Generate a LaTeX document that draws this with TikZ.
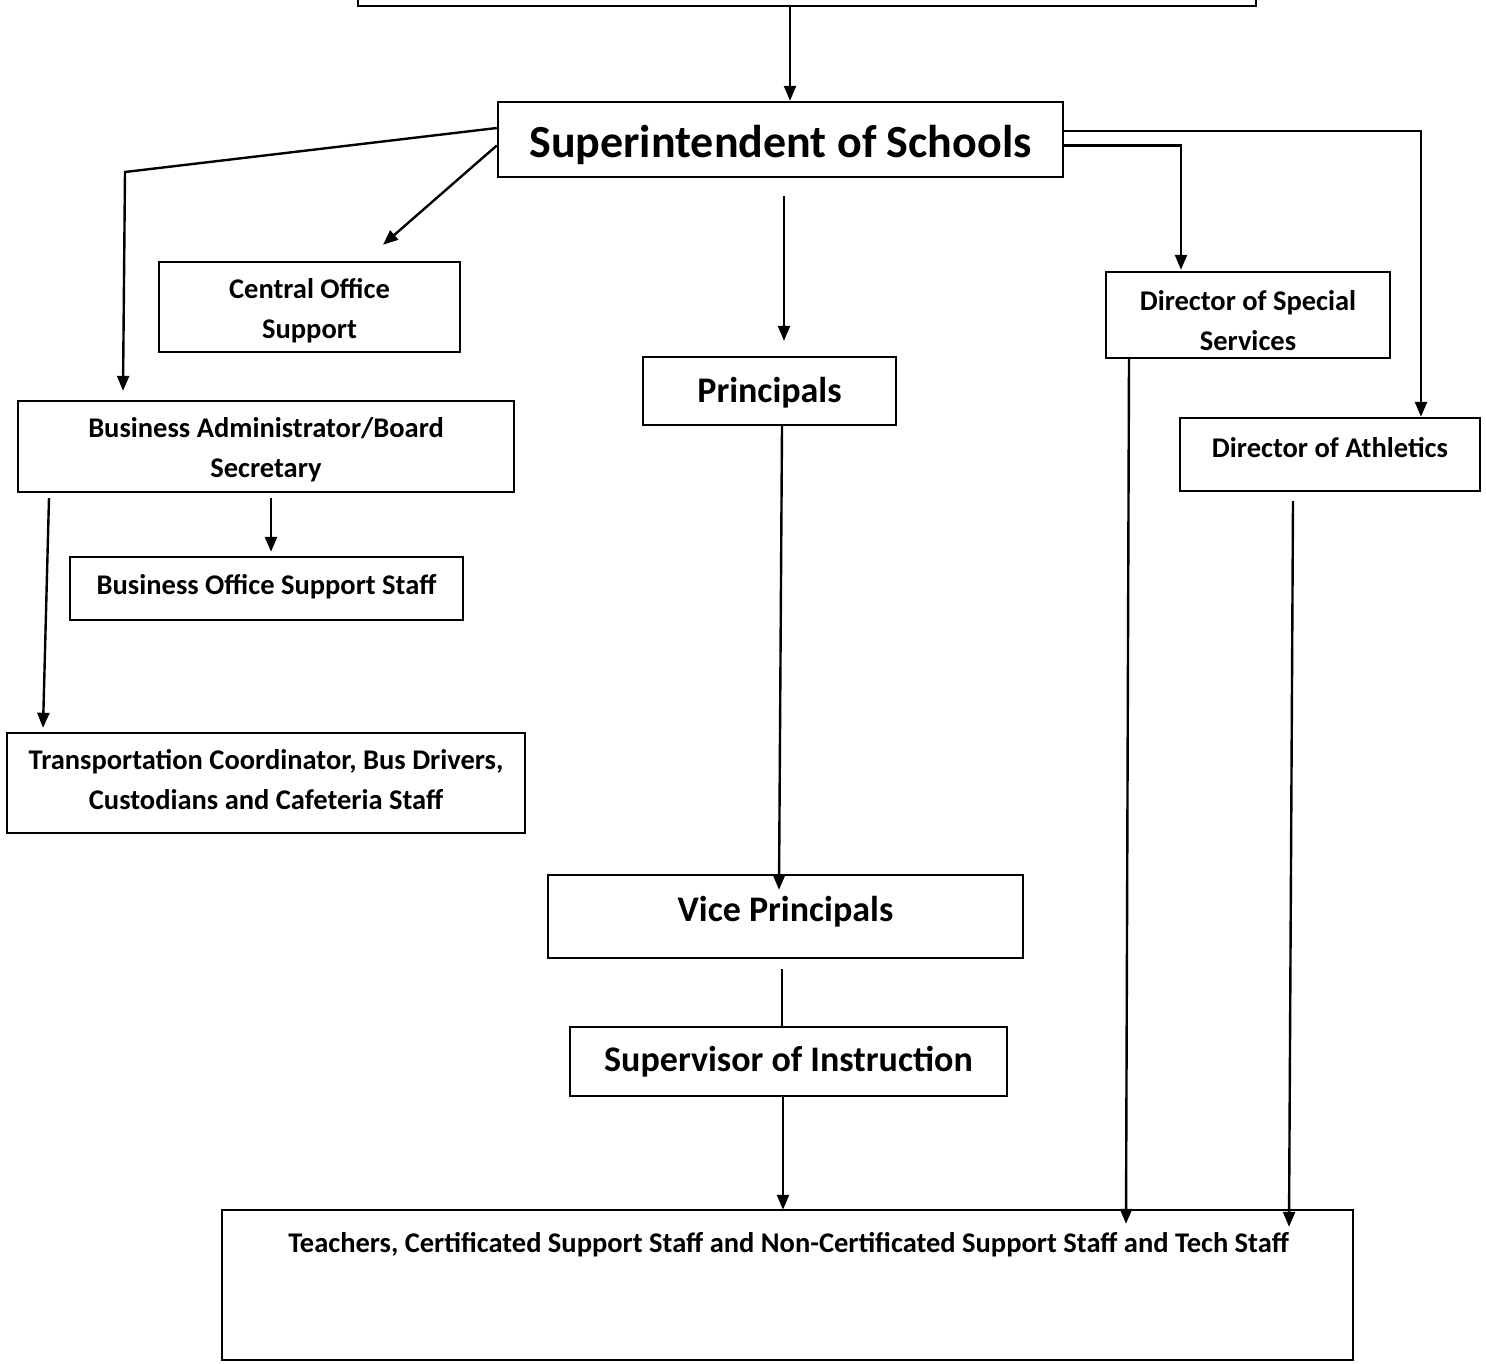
\documentclass[tikz,border=0pt]{standalone}
\usepackage{fontspec}
\setmainfont{Carlito}
\usetikzlibrary{arrows.meta,calc}
\newcommand\mvone[2]{\raisebox{#1}[\height][\depth]{#2}}
\newcommand\mvtwo[2]{\raisebox{#1}[\height][\depth]{\begin{tabular}{@{}c@{}}#2\end{tabular}}}
\tikzset{
  box/.style={draw, line width=2.4pt, inner sep=0pt, align=center, font=\bfseries\fontsize{28.5}{40}\selectfont},
  big/.style={font=\bfseries\fontsize{36}{42}\selectfont},
  huge/.style={font=\bfseries\fontsize{46}{52}\selectfont},
  arr/.style={line width=2.4pt, -{Triangle[length=15pt,width=12pt]}},
  ln/.style={line width=2.4pt}
}
\begin{document}
\begin{tikzpicture}[x=1pt,y=-1pt]
\useasboundingbox (0,0) rectangle (1486,1363);
\fill[white] (0,0) rectangle (1486,1363);
% nodes
\node[box, minimum width=898, minimum height=52] (board) at (807,-20) {};
\node[box, huge, minimum width=565, minimum height=75] (sup) at (780.5,139.5) {\mvone{-5pt}{Superintendent of Schools}};
\node[box, minimum width=301, minimum height=90] (cos) at (309.5,307) {\mvtwo{-3pt}{Central Office\\Support}};
\node[box, minimum width=496, minimum height=91] (bas) at (266,446.5) {\mvtwo{-3pt}{Business Administrator/Board\\Secretary}};
\node[box, minimum width=393, minimum height=63] (bos) at (266.5,588.5) {\mvone{2pt}{Business Office Support Staff}};
\node[box, minimum width=518, minimum height=100] (trans) at (266,783) {\mvtwo{2pt}{Transportation Coordinator, Bus Drivers,\\Custodians and Cafeteria Staff}};
\node[box, big, minimum width=253, minimum height=68] (prin) at (769.5,391) {\mvone{-2pt}{Principals}};
\node[box, minimum width=284, minimum height=86] (dss) at (1248,315) {\mvtwo{-7pt}{Director of Special\\Services}};
\node[box, minimum width=300, minimum height=73] (dath) at (1330,454.5) {\mvone{7pt}{Director of Athletics}};
\node[box, big, minimum width=475, minimum height=83] (vice) at (785.5,916.5) {\mvone{5pt}{Vice Principals}};
\node[box, big, minimum width=437, minimum height=69] (soi) at (788.5,1061.5) {Supervisor of Instruction};
\node[box, minimum width=1131, minimum height=150] (teach) at (787.5,1285) {};
\node[font=\bfseries\fontsize{28.5}{32}\selectfont, inner sep=0pt] (teachtxt) at ($(teach.north)+(1,36)$) {Teachers, Certificated Support Staff and Non-Certificated Support Staff and Tech Staff};
% connectors
\draw[arr] ($(board.south)+(-17,0)$) -- ($(sup.north)+(9.5,0)$);
\coordinate (kb) at (125,172);
\draw[arr] ($(sup.west)+(0,-11.5)$) -- (kb) -- ($(bas.north)+(-143,-9)$);
\draw[arr] ($(sup.west)+(0,6)$) -- ($(cos.north)+(73.5,-16)$);
\draw[arr] ($(sup.south)+(3.5,18)$) -- ($(prin.north)+(14.5,-15)$);
\draw[arr] ($(sup.east)+(0,6)$) -| ($(dss.north)+(-67,-1)$);
\draw[arr] ($(sup.east)+(0,-8.5)$) -| ($(dath.north)+(91,0)$);
\draw[arr] ($(bas.south)+(5,5)$) -- ($(bos.north)+(4.5,-4)$);
\draw[arr] ($(bas.south)+(-217,5)$) -- ($(trans.north)+(-223,-4)$);
\draw[arr] ($(prin.south)+(12.5,0)$) -- ($(vice.north)+(-6.5,16)$);
\draw[ln] ($(vice.south)+(-3.5,10)$) -- ($(soi.north)+(-6.5,0)$);
\draw[arr] ($(soi.south)+(-5.5,0)$) -- ($(teach.north)+(-4.5,1)$);
\draw[arr] ($(dss.south)+(-119,0)$) -- ($(teach.north)+(338.5,15)$);
\draw[arr] ($(dath.south)+(-37,9)$) -- ($(teach.north)+(501.5,18)$);
\end{tikzpicture}
\end{document}
